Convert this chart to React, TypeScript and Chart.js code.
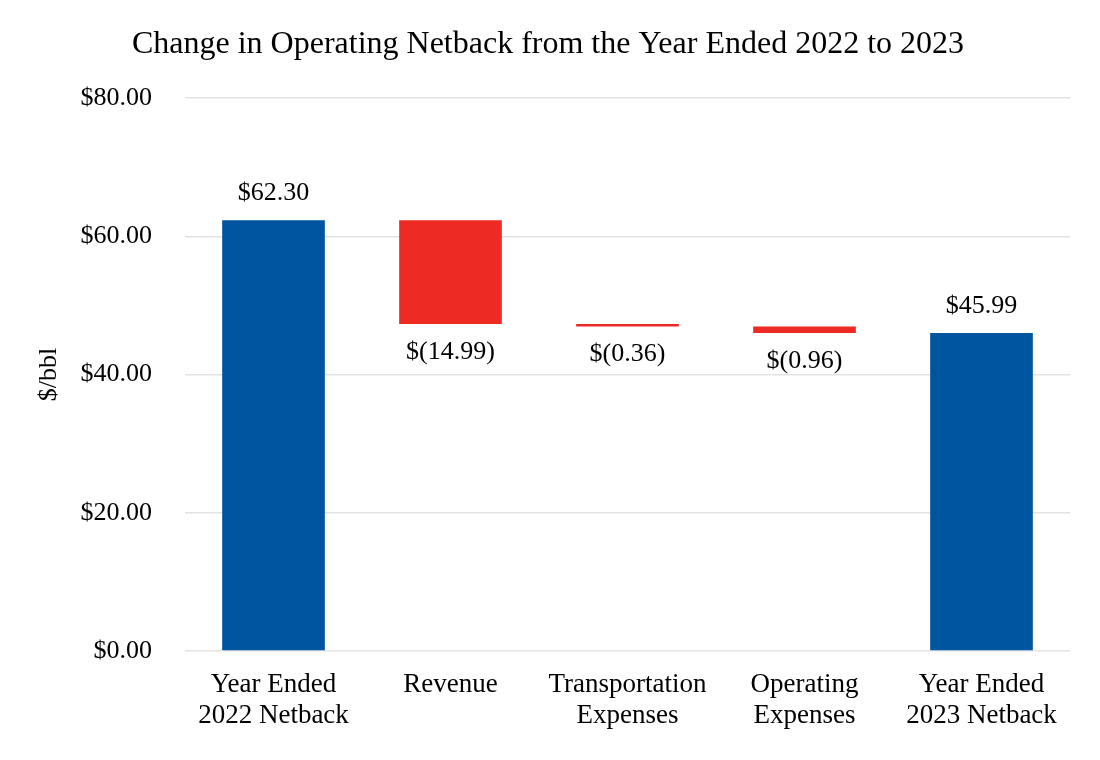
import React, { useEffect, useRef } from "react";
import { Chart, registerables } from "chart.js";

Chart.register(...registerables);

const chartTitle = "Change in Operating Netback from the Year Ended 2022 to 2023";
const yAxisTitle = "$/bbl";
const categories: (string | string[])[] = [
  ["Year Ended", "2022 Netback"],
  "Revenue",
  ["Transportation", "Expenses"],
  ["Operating", "Expenses"],
  ["Year Ended", "2023 Netback"],
];
const startNetback = 62.3;
const changes = [-14.99, -0.36, -0.96];
const endNetback = 45.99;
const yTicks = [0, 20, 40, 60, 80];

const BLUE = "#0055A1";
const RED = "#EE2A24";
const FONT = "'Liberation Serif', 'Times New Roman', serif";

function fmt(v: number): string {
  const s = Math.abs(v).toFixed(2);
  return v < 0 ? `$(${s})` : `$${s}`;
}

export default function App() {
  const ref = useRef<HTMLCanvasElement | null>(null);

  useEffect(() => {
    if (!ref.current) return;
    const ranges: [number, number][] = [];
    const values: number[] = [];
    ranges.push([0, startNetback]);
    values.push(startNetback);
    let run = startNetback;
    for (const c of changes) {
      ranges.push([run, run + c]);
      values.push(c);
      run += c;
    }
    ranges.push([0, endNetback]);
    values.push(endNetback);
    const colors = values.map((v, i) =>
      i === 0 || i === values.length - 1 ? BLUE : v < 0 ? RED : BLUE
    );

    const labelPlugin = {
      id: "labels",
      afterDatasetsDraw(chart: any) {
        const ctx = chart.ctx;
        const meta = chart.getDatasetMeta(0);
        const y = chart.scales.y;
        ctx.save();
        ctx.font = `26px ${FONT}`;
        ctx.fillStyle = "#000";
        ctx.textAlign = "center";
        ctx.textBaseline = "middle";
        meta.data.forEach((bar: any, i: number) => {
          const [a, b] = ranges[i];
          const isTotal = i === 0 || i === ranges.length - 1;
          if (isTotal || values[i] >= 0) {
            const top = y.getPixelForValue(Math.max(a, b));
            ctx.fillText(fmt(values[i]), bar.x, top - 27);
          } else {
            const bot = y.getPixelForValue(Math.min(a, b));
            ctx.fillText(fmt(values[i]), bar.x, bot + 28);
          }
        });
        // chart title
        ctx.font = `32px ${FONT}`;
        ctx.fillText(chartTitle, 548, 45);
        // y-axis title
        ctx.font = `26px ${FONT}`;
        ctx.translate(49, (chart.chartArea.top + chart.chartArea.bottom) / 2);
        ctx.rotate(-Math.PI / 2);
        ctx.fillText(yAxisTitle, 0, 0);
        ctx.restore();
      },
    };

    const chart = new Chart(ref.current, {
      type: "bar",
      data: {
        labels: categories,
        datasets: [
          {
            data: ranges as any,
            backgroundColor: colors,
            borderWidth: 0,
            barPercentage: 0.58,
            categoryPercentage: 1,
            borderSkipped: false,
          },
        ],
      },
      options: {
        responsive: true,
        maintainAspectRatio: false,
        animation: false,
        layout: { padding: { top: 98, right: 30, left: 0, bottom: 0 } },
        plugins: {
          legend: { display: false },
          title: { display: false },
          tooltip: { enabled: false },
        },
        scales: {
          x: {
            grid: { display: false },
            border: { display: false },
            ticks: {
              color: "#000",
              font: { family: FONT, size: 27, lineHeight: 1.15 },
              padding: 10,
              maxRotation: 0,
              autoSkip: false,
            },
            afterFit(scale: any) {
              scale.height = 109;
            },
          },
          y: {
            min: 0,
            max: 80,
            afterBuildTicks(scale: any) {
              scale.ticks = yTicks.map((v) => ({ value: v }));
            },
            grid: { color: "#E3E3E3", lineWidth: 1.5, drawTicks: false },
            border: { display: false },
            ticks: {
              color: "#000",
              font: { family: FONT, size: 26 },
              padding: 33,
              callback: (v: any) => fmt(Number(v)),
            },
            afterFit(scale: any) {
              scale.width = 185;
            },
          },
        },
      },
      plugins: [labelPlugin],
    });
    return () => chart.destroy();
  }, []);

  return (
    <div style={{ position: "absolute", left: 0, top: 0, width: 1100, height: 760, background: "#fff" }}>
      <canvas ref={ref} />
    </div>
  );
}
